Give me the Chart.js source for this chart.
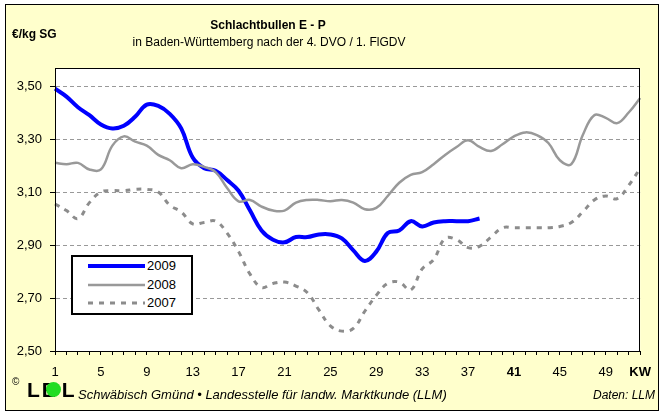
<!DOCTYPE html>
<html>
<head>
<meta charset="utf-8">
<script src="https://cdn.jsdelivr.net/npm/chart.js@4.4.0/dist/chart.umd.min.js"></script>
<style>
  html, body { margin:0; padding:0; background:#fff; }
  #wrap { position:relative; width:661px; height:412px; overflow:hidden; font-family:"Liberation Sans", Arial, sans-serif; color:#000; }
  #frame { position:absolute; left:5px; top:4px; width:652px; height:405px; border:1px solid #000; background:#FFFFCC; }
  #c { position:absolute; left:0; top:0; }
  .t { position:absolute; white-space:nowrap; line-height:14px; }
  #legend { position:absolute; left:71px; top:255px; width:122px; height:60px; box-sizing:border-box; border:2px solid #000; background:#fff; }
  .lrow { position:absolute; left:15px; height:16px; }
  .lrow svg { position:absolute; left:0; top:5px; }
  .lrow span { position:absolute; left:59px; top:0; font-size:13px; line-height:16px; }
</style>
</head>
<body>
<div id="wrap">
  <div id="frame"></div>
  <canvas id="c" width="661" height="412"></canvas>
  <div class="t" style="left:268px; top:18px; transform:translateX(-50%); font-weight:bold; font-size:12px;">Schlachtbullen E - P</div>
  <div class="t" style="left:269px; top:35px; transform:translateX(-50%); font-size:12px;">in Baden-Württemberg nach der 4. DVO / 1. FlGDV</div>
  <div class="t" style="left:12px; top:27px; font-weight:bold; font-size:12px;">€/kg SG</div>
  <div id="legend"></div>
  <div class="t" style="left:12px; top:375px; font-size:10px;">©</div>
  <div class="t" style="left:27px; top:380px; font-weight:bold; font-size:21px; line-height:20px;">L<span style="position:relative; display:inline-block; width:20px; margin-left:2px;">E<span style="position:absolute; left:4px; top:2px; width:15px; height:15px; border-radius:50%; background:#22DD22;"></span></span>L</div>
  <div class="t" style="left:78px; top:388px; font-style:italic; font-size:13px;">Schwäbisch Gmünd • Landesstelle für landw. Marktkunde (LLM)</div>
  <div class="t" style="left:593px; top:388px; font-style:italic; font-size:12px;">Daten: LLM</div>
</div>
<script>
// ---- data ----
const weeks = ["1","2","3","4","5","6","7","8","9","10","11","12","13","14","15","16","17","18","19","20",
  "21","22","23","24","25","26","27","28","29","30","31","32","33","34","35","36","37","38","39","40",
  "41","42","43","44","45","46","47","48","49","50","51","52"];
const y2009 = [3.49,3.46,3.42,3.39,3.355,3.34,3.35,3.385,3.43,3.425,3.395,3.34,3.23,3.19,3.18,3.145,3.105,3.03,2.955,2.92,
  2.91,2.93,2.93,2.94,2.94,2.925,2.88,2.84,2.875,2.945,2.955,2.99,2.97,2.985,2.99,2.99,2.99,3.00];
const y2008 = [3.21,3.205,3.21,3.185,3.185,3.275,3.31,3.29,3.275,3.24,3.22,3.19,3.205,3.195,3.175,3.115,3.065,3.07,3.045,3.03,
  3.03,3.06,3.07,3.07,3.065,3.07,3.06,3.035,3.04,3.085,3.135,3.165,3.175,3.205,3.24,3.27,3.295,3.27,3.255,3.28,
  3.31,3.325,3.315,3.285,3.22,3.205,3.315,3.39,3.38,3.36,3.40,3.455];
const y2007 = [3.055,3.03,3.0,3.06,3.1,3.105,3.105,3.11,3.11,3.1,3.05,3.025,2.98,2.985,2.99,2.945,2.875,2.79,2.74,2.755,
  2.76,2.745,2.72,2.655,2.595,2.575,2.585,2.65,2.71,2.755,2.76,2.73,2.81,2.845,2.925,2.92,2.89,2.895,2.93,2.965,
  2.965,2.965,2.965,2.965,2.97,2.985,3.025,3.07,3.085,3.075,3.125,3.19];
const seriesNames = ["2009","2008","2007"];
const yTicks = [2.5,2.7,2.9,3.1,3.3,3.5];
const xLabelEvery = 4;
const xAxisUnit = "KW";

const FONT = '"Liberation Sans", Arial, sans-serif';
const styles = [
  {color:'#0000FF', width:4, dash:[]},
  {color:'#999999', width:2.5, dash:[]},
  {color:'#8C8C8C', width:3, dash:[5,6]}
];

// legend (HTML)
const lg = document.getElementById('legend');
const rowTops = [1, 20, 38];
seriesNames.forEach((n,i)=>{
  const r = document.createElement('div');
  r.className = 'lrow';
  r.style.top = rowTops[i] + 'px';
  const s = styles[i];
  r.innerHTML = '<svg width="58" height="6"><line x1="0" y1="3" x2="57" y2="3" stroke="'+s.color+'" stroke-width="'+s.width+'"'+(s.dash.length?' stroke-dasharray="'+s.dash.join(',')+'"':'')+'/></svg><span>'+n+'</span>';
  lg.appendChild(r);
});

const areaPlugin = {
  id:'area',
  beforeDraw(chart){
    const a = chart.chartArea, ctx = chart.ctx;
    ctx.save(); ctx.fillStyle = '#fff';
    ctx.fillRect(a.left, a.top, a.right-a.left, a.bottom-a.top);
    ctx.restore();
  },
  afterDraw(chart){
    const a = chart.chartArea, ctx = chart.ctx;
    ctx.save(); ctx.strokeStyle = '#000'; ctx.lineWidth = 1;
    ctx.strokeRect(Math.round(a.left)+0.5, Math.round(a.top)+0.5, Math.round(a.right-a.left)-1, Math.round(a.bottom-a.top));
    ctx.restore();
  }
};

new Chart(document.getElementById('c'), {
  type:'line',
  data:{
    labels: weeks,
    datasets:[
      {label:seriesNames[2], data:y2007, borderColor:styles[2].color, borderWidth:styles[2].width, borderDash:styles[2].dash, pointRadius:0, tension:0.4, fill:false},
      {label:seriesNames[1], data:y2008, borderColor:styles[1].color, borderWidth:styles[1].width, pointRadius:0, tension:0.4, fill:false},
      {label:seriesNames[0], data:y2009, borderColor:styles[0].color, borderWidth:styles[0].width, pointRadius:0, tension:0.4, fill:false}
    ]
  },
  options:{
    responsive:false, animation:false, devicePixelRatio:1,
    layout:{padding:{left:0, top:68, right:17, bottom:0}},
    plugins:{legend:{display:false}, tooltip:{enabled:false}, title:{display:false}},
    scales:{
      x:{
        type:'category',
        offset:false,
        afterFit(s){ s.height = 61; },
        grid:{display:true, drawOnChartArea:false, drawTicks:true, tickLength:4, tickColor:'#000', tickWidth:1},
        border:{display:true, color:'#000', width:1},
        ticks:{
          autoSkip:false, maxRotation:0, minRotation:0, padding:10, color:'#000',
          font:(ctx)=>({family:FONT, size:13, weight:(ctx.index===weeks.length-1 || ctx.index===40)?'bold':'normal'}),
          callback:(v,i)=> i===weeks.length-1 ? xAxisUnit : (i % xLabelEvery === 0 ? weeks[i] : '')
        }
      },
      y:{
        min:2.5, max:3.568,
        afterFit(s){ s.width = 55; },
        afterBuildTicks(s){ s.ticks = yTicks.map(v=>({value:v})); },
        grid:{display:true, color:'#999999', lineWidth:1, drawTicks:true, tickLength:5, tickColor:'#000', tickBorderDash:[]},
        border:{display:true, color:'#000', width:1, dash:[4,3]},
        ticks:{padding:8, color:'#000', font:{family:FONT, size:13}, callback:(v)=> Number(v).toFixed(2).replace('.',',')}
      }
    }
  },
  plugins:[areaPlugin]
});
</script>
</body>
</html>
